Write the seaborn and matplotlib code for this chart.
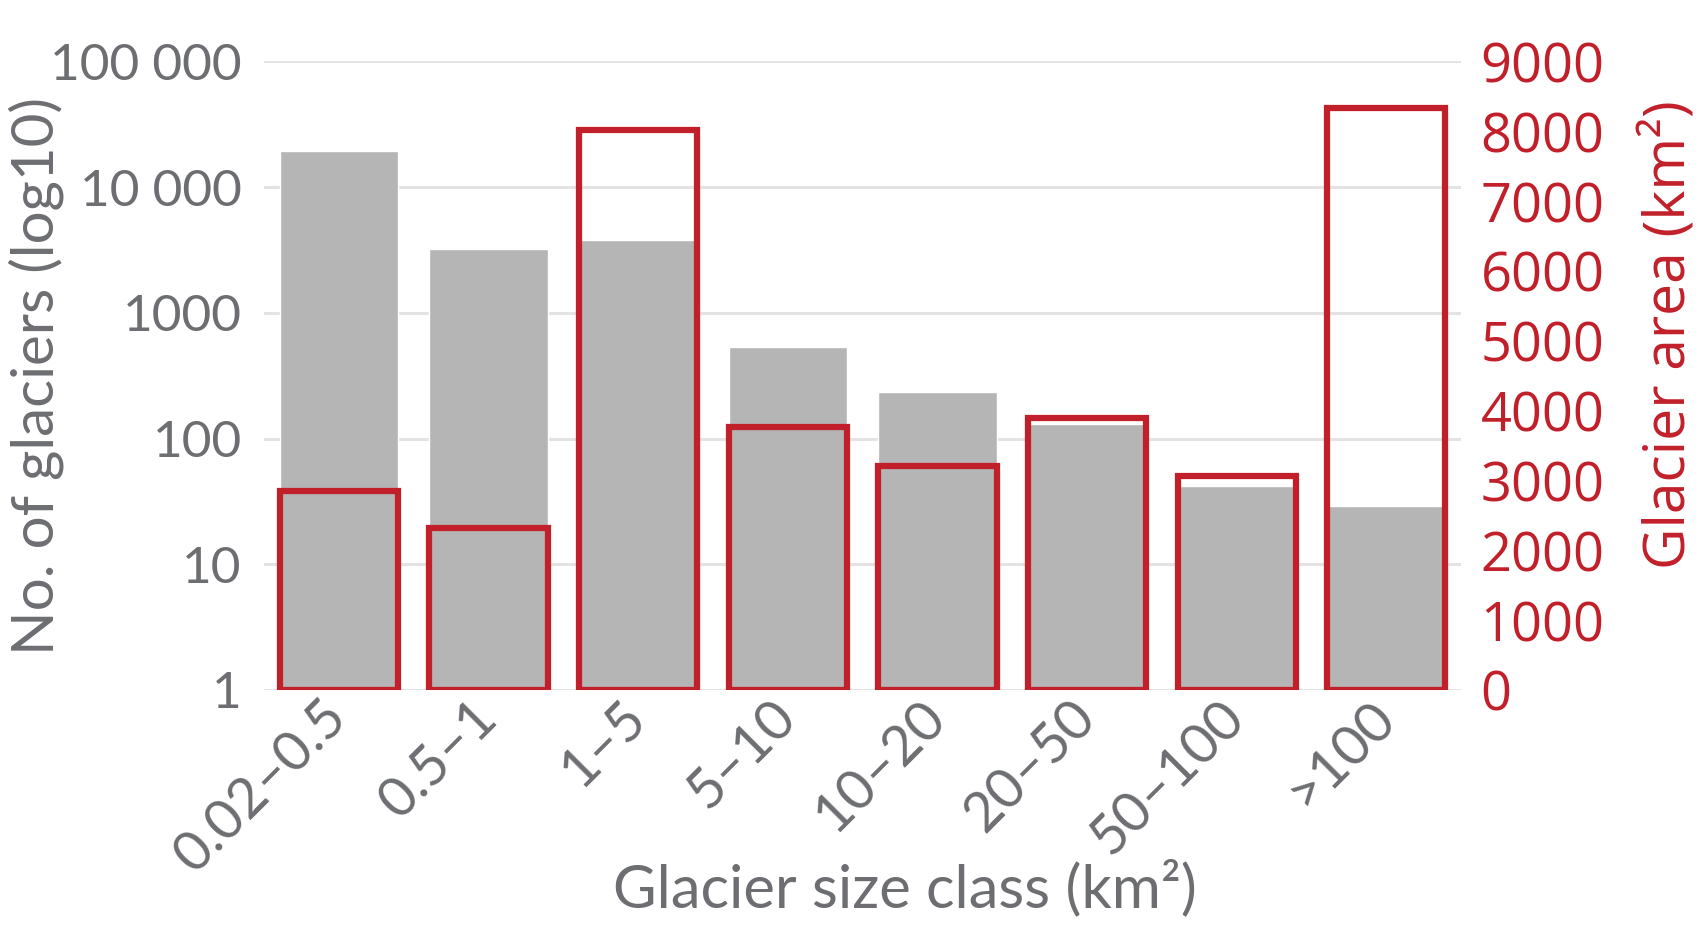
import matplotlib
matplotlib.use("Agg")
import matplotlib.pyplot as plt
import seaborn as sns

# chart data
size_classes = ["0.02–0.5", "0.5–1", "1–5", "5–10", "10–20", "20–50", "50–100", ">100"]
glacier_count = [19500, 3200, 3800, 530, 235, 130, 42, 29]
glacier_area = [2850, 2320, 8020, 3760, 3200, 3900, 3060, 8340]
left_ticks = [1, 10, 100, 1000, 10000, 100000]
left_tick_labels = ["1", "10", "100", "1000", "10 000", "100 000"]
right_ticks = list(range(0, 9001, 1000))

GREY_TEXT = "#6d6e71"
GREY_BAR = "#b5b5b5"
RED = "#c1202a"
GRID = "#e3e3e3"

sns.set_style("white")
plt.rcParams["font.family"] = ["Lato", "DejaVu Sans"]

fig = plt.figure(figsize=(17.03, 9.31), dpi=100)
ax = fig.add_axes([0.155, 0.259, 0.703, 0.675])

# grey bars: number of glaciers on a log axis
sns.barplot(x=size_classes, y=glacier_count, ax=ax, color=GREY_BAR,
            saturation=1, width=0.79, zorder=2)
ax.set_yscale("log")
ax.set_ylim(1, 100000)
ax.set_xlim(-0.5, 7.5)
ax.set_yticks(left_ticks)
ax.set_yticklabels(left_tick_labels, fontsize=37, color=GREY_TEXT)
ax.minorticks_off()
ax.yaxis.grid(True, color=GRID, linewidth=2.2, zorder=0)
ax.set_axisbelow(True)
ax.tick_params(axis="y", length=0, pad=16)
ax.tick_params(axis="x", length=0, pad=14)
for lbl in ax.get_xticklabels():
    lbl.set_rotation(45)
    lbl.set_rotation_mode("anchor")
    lbl.set_ha("right")
    lbl.set_va("center")
    lbl.set_fontsize(40)
    lbl.set_color(GREY_TEXT)
for s in ax.spines.values():
    s.set_visible(False)
ax.set_ylabel("No. of glaciers (log10)", fontsize=42, color=GREY_TEXT, va="center")
ax.yaxis.set_label_coords(-0.19, 0.5)
ax.set_xlabel("Glacier size class (km²)", fontsize=43, color=GREY_TEXT)
ax.xaxis.set_label_coords(0.535, -0.27)

# red outlined bars: glacier area on the right axis
ax2 = ax.twinx()
sns.barplot(x=size_classes, y=glacier_area, ax=ax2, color=RED, fill=False,
            linewidth=4.5, width=0.79, saturation=1, zorder=3)
for p in ax2.patches:
    p.set_edgecolor(RED)
ax2.set_ylim(0, 9000)
ax2.set_xlim(-0.5, 7.5)
ax2.set_yticks(right_ticks)
ax2.set_yticklabels([str(t) for t in right_ticks], fontsize=39, color=RED,
                    family=["Open Sans", "DejaVu Sans"])
ax2.tick_params(axis="y", length=0, pad=14)
ax2.grid(False)
for s in ax2.spines.values():
    s.set_visible(False)
ax2.set_ylabel("Glacier area (km²)", fontsize=41, color=RED, va="center",
               family=["Open Sans", "DejaVu Sans"])
ax2.yaxis.set_label_coords(1.175, 0.565)

fig.savefig("out.png", dpi=100)
